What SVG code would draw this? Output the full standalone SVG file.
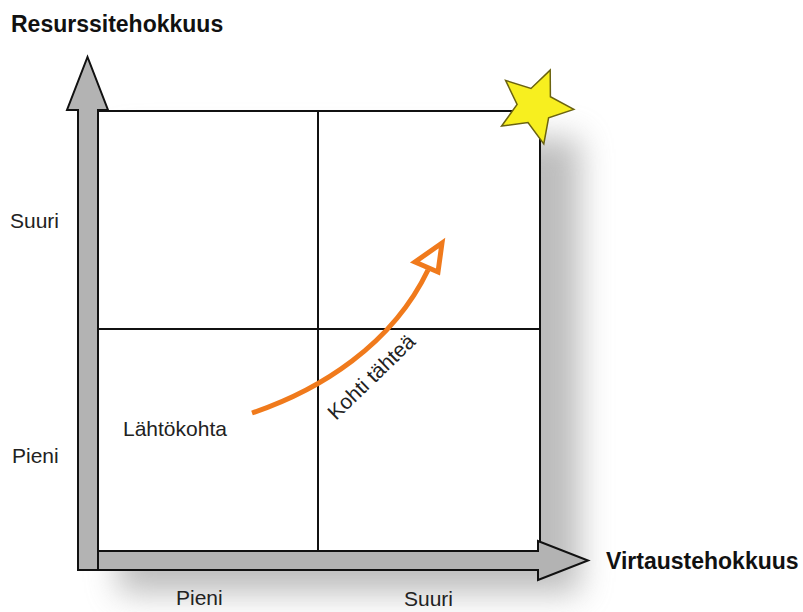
<svg xmlns="http://www.w3.org/2000/svg" width="803" height="612" viewBox="0 0 803 612">
<defs>
<filter id="soft" x="-20%" y="-20%" width="150%" height="150%">
<feGaussianBlur stdDeviation="16"/>
</filter>
<style>
.lbl{font-family:"Liberation Sans",Arial,sans-serif;font-size:21px;fill:#222}
.ttl{font-family:"Liberation Sans",Arial,sans-serif;font-size:23px;font-weight:bold;fill:#111}
.axis{fill:#b3b3b3;stroke:#111;stroke-width:2;stroke-linejoin:miter}
.grid{stroke:#111;stroke-width:2;fill:none}
.orange{stroke:#f07a1c;stroke-width:5;fill:none}
</style>
</defs>
<rect x="118" y="138" width="462" height="455" fill="#9a9a9a" filter="url(#soft)" opacity="0.65"/>
<rect x="98" y="111" width="442" height="440" fill="#fff"/>
<g id="quadrants">
<rect class="grid" x="98" y="111" width="442" height="440"/>
<line class="grid" x1="318" y1="111" x2="318" y2="551"/>
<line class="grid" x1="98" y1="329" x2="540" y2="329"/>
</g>
<g id="x-axis">
<polygon class="axis" points="98,551 538,551 538,541 588,560.5 538,580 538,570 98,570"/>
</g>
<g id="y-axis">
<polygon class="axis" points="78,570 78,110 67,110 87.5,57 108,110 98,110 98,570"/>
</g>
<g id="star">
<polygon points="550.2,70.1 550.4,96.7 573.8,109.4 548.6,117.8 543.8,144 528,122.6 501.6,126.1 517.1,104.4 505.6,80.4 531,88.5" fill="#f7ef1f" stroke="#6b6310" stroke-width="1.5" stroke-linejoin="miter"/>
</g>
<g id="connectors">
<path class="orange" d="M252,413 C320,390 392,345 428,270"/>
<polygon class="orange" points="442,243 438,272 415,262" stroke-linejoin="miter" fill="#fff"/>
</g>
<g id="labels">
<text class="ttl" x="11" y="32">Resurssitehokkuus</text>
<text class="ttl" x="606" y="569">Virtaustehokkuus</text>
<text class="lbl" x="10" y="228">Suuri</text>
<text class="lbl" x="12" y="463">Pieni</text>
<text class="lbl" x="123" y="436">Lähtökohta</text>
<text class="lbl" x="176" y="605">Pieni</text>
<text class="lbl" x="404" y="606">Suuri</text>
<text class="lbl" font-size="19.5" transform="translate(336,421) rotate(-44)">Kohti tähteä</text>
</g>
</svg>
